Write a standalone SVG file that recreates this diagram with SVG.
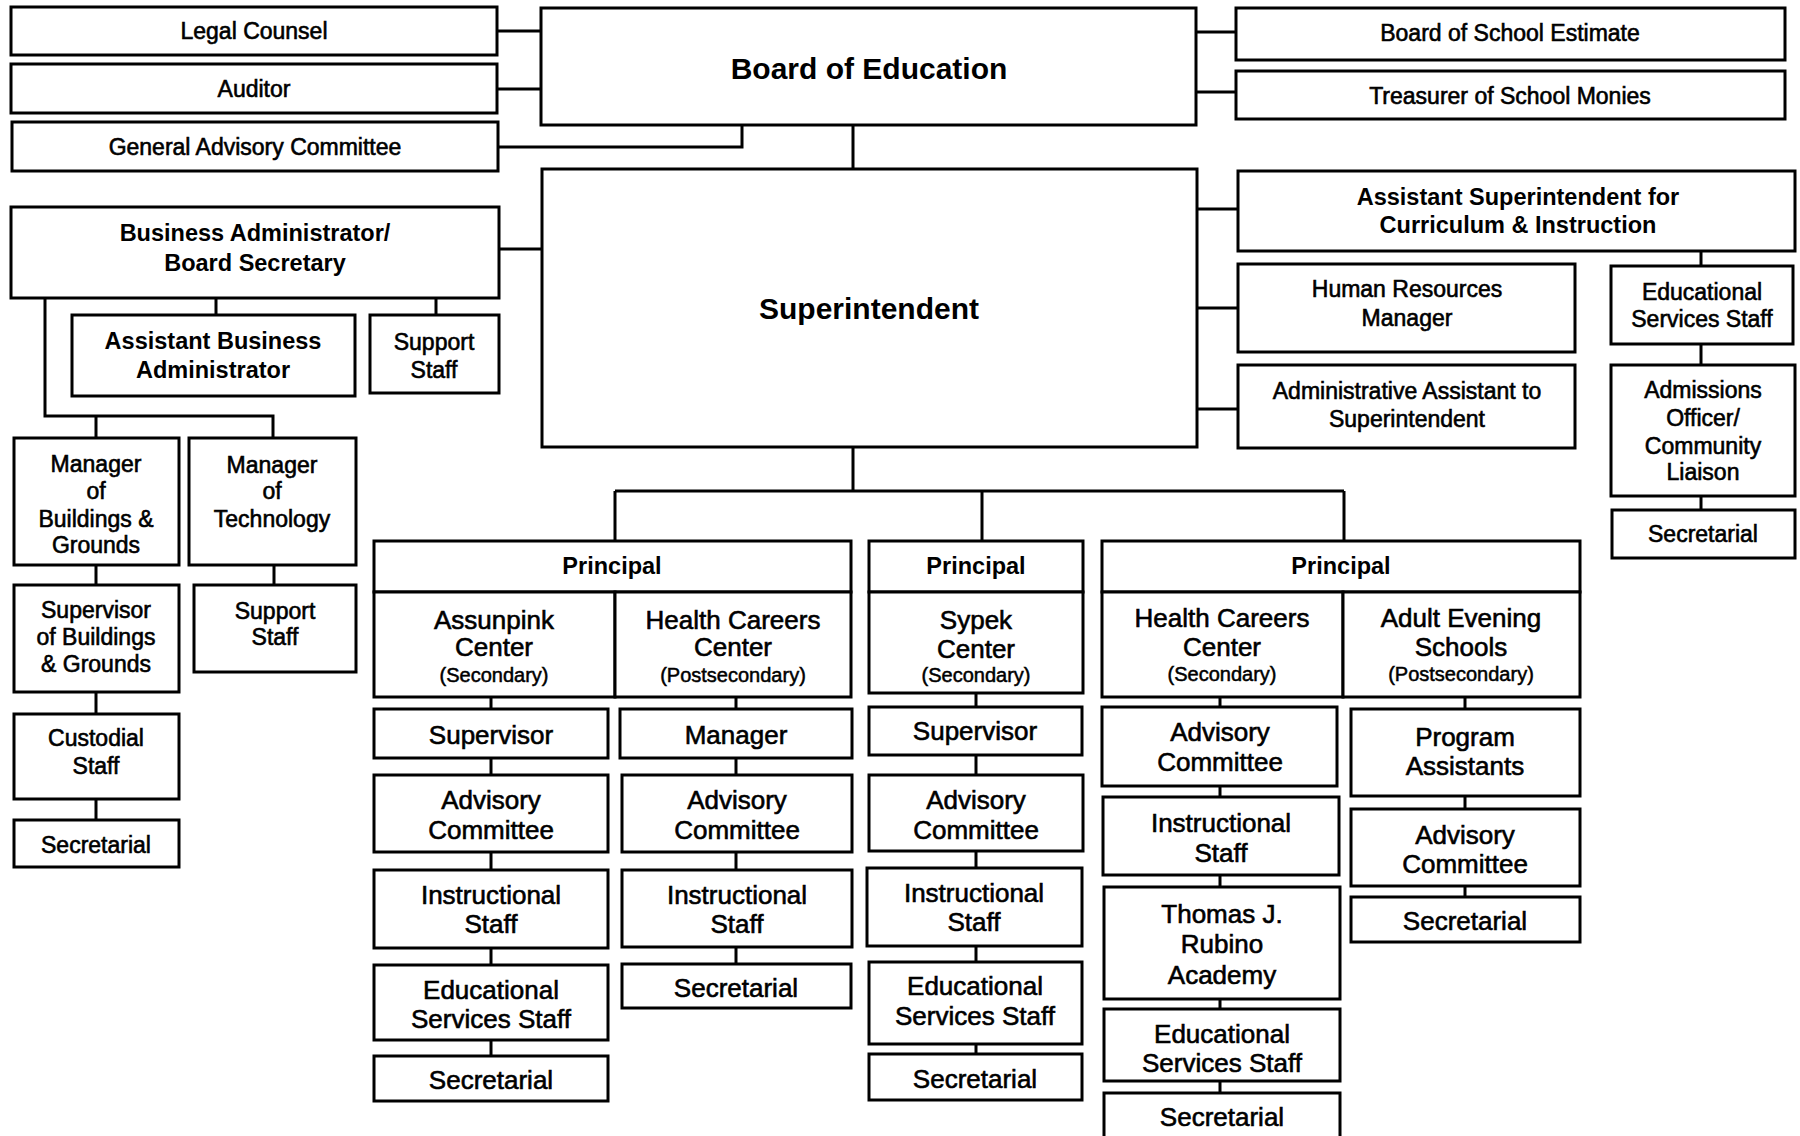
<svg xmlns="http://www.w3.org/2000/svg" width="1800" height="1136" viewBox="0 0 1800 1136">
<style>
.b{fill:#fff;stroke:#000;stroke-width:3}
.c{stroke:#000;stroke-width:3;fill:none}
text{font-family:"Liberation Sans",Arial,sans-serif;fill:#000;text-anchor:middle;dominant-baseline:central}
.s{font-size:23px;stroke:#000;stroke-width:0.6}
.m{font-size:26px;stroke:#000;stroke-width:0.6}
.sm{font-size:20px;stroke:#000;stroke-width:0.5}
.bt{font-size:30px;font-weight:bold}
.bb{font-size:23.5px;font-weight:bold}
</style>
<rect width="1800" height="1136" fill="#fff"/>
<g id="connectors">
<path class="c" d="M497 31H541M497 89H541M1196 32H1236M1196 92H1236M498 147H742V125M853 125V169"/>
<path class="c" d="M499 249H542M216 298V315M436 298V315M45 298V416H273V438M96 416V438M96 565V585M96 692V714M96 799V820M274 565V585"/>
<path class="c" d="M1197 209H1238M1197 308H1238M1197 409H1238M1701 251V266M1701 344V365M1701 496V510"/>
<path class="c" d="M853 447V491M615 491H1344M615 491V541M982 491V541M1344 491V541"/>
<path class="c" d="M491 697V709M491 758V775M491 852V870M491 948V965M491 1040V1056"/>
<path class="c" d="M736 697V709M736 758V775M736 852V870M736 947V964"/>
<path class="c" d="M976 693V707M976 755V775M976 851V868M976 946V962M976 1044V1054"/>
<path class="c" d="M1220 697V707M1220 786V797M1220 875V887M1220 999V1009M1220 1081V1093"/>
<path class="c" d="M1465 697V709M1465 796V809M1465 886V897"/>
</g>
<g id="legal-counsel"><rect class="b" x="11" y="7" width="486" height="48"/><text class="s" x="254" y="31">Legal Counsel</text></g>
<g id="auditor"><rect class="b" x="11" y="64" width="486" height="49"/><text class="s" x="254" y="89">Auditor</text></g>
<g id="general-advisory"><rect class="b" x="12" y="122" width="486" height="49"/><text class="s" x="255" y="147">General Advisory Committee</text></g>
<g id="board-of-education"><rect class="b" x="541" y="8" width="655" height="117"/><text class="bt" x="869" y="68">Board of Education</text></g>
<g id="board-school-estimate"><rect class="b" x="1236" y="8" width="549" height="52"/><text class="s" x="1510" y="33">Board of School Estimate</text></g>
<g id="treasurer"><rect class="b" x="1236" y="71" width="549" height="48"/><text class="s" x="1510" y="96">Treasurer of School Monies</text></g>
<g id="superintendent"><rect class="b" x="542" y="169" width="655" height="278"/><text class="bt" x="869" y="308">Superintendent</text></g>
<g id="business-admin"><rect class="b" x="11" y="207" width="488" height="91"/><text class="bb" x="255" y="233">Business Administrator/</text><text class="bb" x="255" y="263">Board Secretary</text></g>
<g id="asst-business-admin"><rect class="b" x="72" y="315" width="283" height="81"/><text class="bb" x="213" y="341">Assistant Business</text><text class="bb" x="213" y="370">Administrator</text></g>
<g id="support-staff-1"><rect class="b" x="370" y="315" width="129" height="78"/><text class="s" x="434" y="342">Support</text><text class="s" x="434" y="370">Staff</text></g>
<g id="mgr-buildings"><rect class="b" x="14" y="438" width="165" height="127"/><text class="s" x="96" y="464">Manager</text><text class="s" x="96" y="491">of</text><text class="s" x="96" y="519">Buildings &amp;</text><text class="s" x="96" y="545">Grounds</text></g>
<g id="mgr-technology"><rect class="b" x="189" y="438" width="167" height="127"/><text class="s" x="272" y="465">Manager</text><text class="s" x="272" y="491">of</text><text class="s" x="272" y="519">Technology</text></g>
<g id="sup-buildings"><rect class="b" x="14" y="585" width="165" height="107"/><text class="s" x="96" y="610">Supervisor</text><text class="s" x="96" y="637">of Buildings</text><text class="s" x="96" y="664">&amp; Grounds</text></g>
<g id="support-staff-2"><rect class="b" x="194" y="585" width="162" height="87"/><text class="s" x="275" y="611">Support</text><text class="s" x="275" y="637">Staff</text></g>
<g id="custodial"><rect class="b" x="14" y="714" width="165" height="85"/><text class="s" x="96" y="738">Custodial</text><text class="s" x="96" y="766">Staff</text></g>
<g id="secretarial-left"><rect class="b" x="14" y="820" width="165" height="47"/><text class="s" x="96" y="845">Secretarial</text></g>
<g id="asst-superintendent"><rect class="b" x="1238" y="171" width="557" height="80"/><text class="bb" x="1518" y="197">Assistant Superintendent for</text><text class="bb" x="1518" y="225">Curriculum &amp; Instruction</text></g>
<g id="hr-manager"><rect class="b" x="1238" y="264" width="337" height="88"/><text class="s" x="1407" y="289">Human Resources</text><text class="s" x="1407" y="318">Manager</text></g>
<g id="admin-assistant"><rect class="b" x="1238" y="365" width="337" height="83"/><text class="s" x="1407" y="391">Administrative Assistant to</text><text class="s" x="1407" y="419">Superintendent</text></g>
<g id="ed-services-right"><rect class="b" x="1611" y="266" width="182" height="78"/><text class="s" x="1702" y="292">Educational</text><text class="s" x="1702" y="319">Services Staff</text></g>
<g id="admissions"><rect class="b" x="1611" y="365" width="184" height="131"/><text class="s" x="1703" y="390">Admissions</text><text class="s" x="1703" y="418">Officer/</text><text class="s" x="1703" y="446">Community</text><text class="s" x="1703" y="472">Liaison</text></g>
<g id="secretarial-right"><rect class="b" x="1612" y="510" width="183" height="48"/><text class="s" x="1703" y="534">Secretarial</text></g>
<g id="principal-1"><rect class="b" x="374" y="541" width="477" height="51"/><text class="bb" x="612" y="566">Principal</text><rect class="b" x="374" y="592" width="241" height="105"/><rect class="b" x="615" y="592" width="236" height="105"/><text class="m" x="494" y="620">Assunpink</text><text class="m" x="494" y="647">Center</text><text class="sm" x="494" y="675">(Secondary)</text><text class="m" x="733" y="620">Health Careers</text><text class="m" x="733" y="647">Center</text><text class="sm" x="733" y="675">(Postsecondary)</text></g>
<g id="assunpink-supervisor"><rect class="b" x="374" y="709" width="234" height="49"/><text class="m" x="491" y="735">Supervisor</text></g>
<g id="assunpink-advisory"><rect class="b" x="374" y="775" width="234" height="77"/><text class="m" x="491" y="800">Advisory</text><text class="m" x="491" y="830">Committee</text></g>
<g id="assunpink-instructional"><rect class="b" x="374" y="870" width="234" height="78"/><text class="m" x="491" y="895">Instructional</text><text class="m" x="491" y="924">Staff</text></g>
<g id="assunpink-edservices"><rect class="b" x="374" y="965" width="234" height="75"/><text class="m" x="491" y="990">Educational</text><text class="m" x="491" y="1019">Services Staff</text></g>
<g id="assunpink-secretarial"><rect class="b" x="374" y="1056" width="234" height="45"/><text class="m" x="491" y="1080">Secretarial</text></g>
<g id="hcc-post-manager"><rect class="b" x="620" y="709" width="232" height="49"/><text class="m" x="736" y="735">Manager</text></g>
<g id="hcc-post-advisory"><rect class="b" x="622" y="775" width="230" height="77"/><text class="m" x="737" y="800">Advisory</text><text class="m" x="737" y="830">Committee</text></g>
<g id="hcc-post-instructional"><rect class="b" x="622" y="870" width="230" height="77"/><text class="m" x="737" y="895">Instructional</text><text class="m" x="737" y="924">Staff</text></g>
<g id="hcc-post-secretarial"><rect class="b" x="622" y="964" width="229" height="44"/><text class="m" x="736" y="988">Secretarial</text></g>
<g id="principal-2"><rect class="b" x="869" y="541" width="214" height="51"/><text class="bb" x="976" y="566">Principal</text><rect class="b" x="869" y="592" width="214" height="101"/><text class="m" x="976" y="620">Sypek</text><text class="m" x="976" y="649">Center</text><text class="sm" x="976" y="675">(Secondary)</text></g>
<g id="sypek-supervisor"><rect class="b" x="869" y="707" width="213" height="48"/><text class="m" x="975" y="731">Supervisor</text></g>
<g id="sypek-advisory"><rect class="b" x="869" y="775" width="214" height="76"/><text class="m" x="976" y="800">Advisory</text><text class="m" x="976" y="830">Committee</text></g>
<g id="sypek-instructional"><rect class="b" x="867" y="868" width="215" height="78"/><text class="m" x="974" y="893">Instructional</text><text class="m" x="974" y="922">Staff</text></g>
<g id="sypek-edservices"><rect class="b" x="869" y="962" width="213" height="82"/><text class="m" x="975" y="986">Educational</text><text class="m" x="975" y="1016">Services Staff</text></g>
<g id="sypek-secretarial"><rect class="b" x="869" y="1054" width="213" height="46"/><text class="m" x="975" y="1079">Secretarial</text></g>
<g id="principal-3"><rect class="b" x="1102" y="541" width="478" height="51"/><text class="bb" x="1341" y="566">Principal</text><rect class="b" x="1102" y="592" width="241" height="105"/><rect class="b" x="1343" y="592" width="237" height="105"/><text class="m" x="1222" y="618">Health Careers</text><text class="m" x="1222" y="647">Center</text><text class="sm" x="1222" y="674">(Secondary)</text><text class="m" x="1461" y="618">Adult Evening</text><text class="m" x="1461" y="647">Schools</text><text class="sm" x="1461" y="674">(Postsecondary)</text></g>
<g id="hcc-sec-advisory"><rect class="b" x="1102" y="707" width="235" height="79"/><text class="m" x="1220" y="732">Advisory</text><text class="m" x="1220" y="762">Committee</text></g>
<g id="hcc-sec-instructional"><rect class="b" x="1103" y="797" width="236" height="78"/><text class="m" x="1221" y="823">Instructional</text><text class="m" x="1221" y="853">Staff</text></g>
<g id="rubino-academy"><rect class="b" x="1104" y="887" width="236" height="112"/><text class="m" x="1222" y="914">Thomas J.</text><text class="m" x="1222" y="944">Rubino</text><text class="m" x="1222" y="975">Academy</text></g>
<g id="hcc-sec-edservices"><rect class="b" x="1104" y="1009" width="236" height="72"/><text class="m" x="1222" y="1034">Educational</text><text class="m" x="1222" y="1063">Services Staff</text></g>
<g id="hcc-sec-secretarial"><rect class="b" x="1104" y="1093" width="236" height="57"/><text class="m" x="1222" y="1117">Secretarial</text></g>
<g id="program-assistants"><rect class="b" x="1351" y="709" width="229" height="87"/><text class="m" x="1465" y="737">Program</text><text class="m" x="1465" y="766">Assistants</text></g>
<g id="adult-advisory"><rect class="b" x="1351" y="809" width="229" height="77"/><text class="m" x="1465" y="835">Advisory</text><text class="m" x="1465" y="864">Committee</text></g>
<g id="adult-secretarial"><rect class="b" x="1351" y="897" width="229" height="45"/><text class="m" x="1465" y="921">Secretarial</text></g>
</svg>
